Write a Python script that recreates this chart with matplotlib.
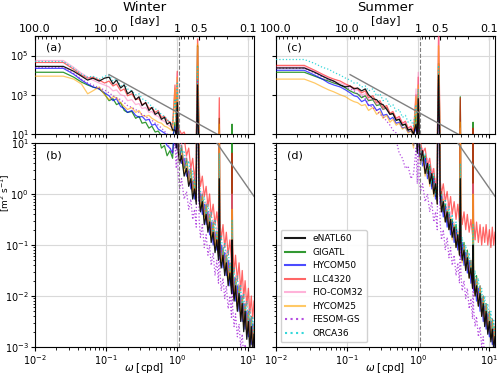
import numpy as np
import matplotlib
matplotlib.use("Agg")
import matplotlib.pyplot as plt

# frequency [cpd] shared by every spectrum
FREQ = [0.010, 0.025, 0.035, 0.045, 0.055, 0.065, 0.08, 0.095, 0.11, 0.125,
        0.14, 0.16, 0.18, 0.2, 0.23, 0.26, 0.29, 0.32, 0.36, 0.4,
        0.44, 0.49, 0.54, 0.6, 0.66, 0.72, 0.79, 0.86,
        0.93, 0.97, 1.0, 1.03, 1.08, 1.15, 1.25, 1.35, 1.45, 1.55,
        1.65, 1.75, 1.85, 1.93, 1.97, 2.03, 2.12, 2.25, 2.4, 2.55,
        2.7, 2.85, 3.0, 3.2, 3.4, 3.6, 3.8, 3.9, 3.98, 4.15,
        4.4, 4.65, 4.9, 5.2, 5.5, 5.8, 5.9, 6.0, 6.3, 6.6,
        7.0, 7.4, 7.8, 8.2, 8.6, 9.0, 9.5, 10.0, 10.5, 11.0,
        11.5, 12.0]

# log10 of spectral density, winter
win_enatl60 = [4.45, 4.45, 4.2, 3.95, 3.75, 3.85, 3.7, 3.85, 3.9, 3.55,
               3.75, 3.35, 3.5, 3.05, 3.2, 2.75, 2.9, 2.45, 2.6, 2.2,
               2.35, 2.0, 2.1, 1.75, 1.85, 1.5, 1.6, 1.2,
               1.2, 0.9, 2.6, 0.85, 0.6, 0.75, 0.35, 0.5, 0.15, 0.3,
               -0.1, 0.1, -0.2, 3.5, 1.5, -0.1, -0.35, -0.15, -0.6, -0.4,
               -0.75, -0.55, -0.95, -0.75, -1.15, -0.9, -1.3, 0.3, -1.2, -1.45,
               -1.2, -1.6, -1.35, -1.8, -1.55, -1.95, -0.9, -1.7, -2.1, -1.8,
               -2.3, -1.95, -2.5, -2.15, -2.7, -2.3, -2.85, -2.5, -3.05, -2.6,
               -3.1, -2.75]
win_gigatl = [4.15, 4.15, 3.9, 3.65, 3.5, 3.4, 3.3, 3.05, 2.7, 2.8,
              2.5, 2.6, 2.2, 2.1, 2.15, 1.8, 1.9, 1.55, 1.6, 1.3,
              1.4, 1.1, 1.15, 0.9, 0.95, 0.75, 0.85, 0.7,
              1.6, 1.0, 3.0, 1.1, 0.7, 0.95, 0.5, 0.7, 0.3, 0.5,
              0.05, 0.3, -0.05, 5.5, 3.0, 0.2, -0.25, 0.0, -0.45, -0.2,
              -0.65, -0.4, -0.85, -0.55, -1.0, -0.75, -1.15, 1.8, -0.9, -1.3,
              -1.05, -1.45, -1.2, -1.65, -1.35, -1.8, 1.5, -1.4, -2.0, -1.65,
              -2.2, -1.8, -2.35, -2.0, -2.5, -2.15, -2.65, -2.3, -2.8, -2.4,
              -2.9, -2.55]
win_hycom50 = [4.35, 4.35, 4.05, 3.75, 3.55, 3.4, 3.3, 3.1, 2.95, 2.7,
               2.8, 2.4, 2.3, 2.1, 2.2, 1.95, 1.85, 1.9, 1.7, 1.75,
               1.45, 1.5, 1.25, 1.15, 1.05, 0.95, 0.9, 0.8,
               1.4, 0.9, 2.5, 0.9, 0.85, 0.6, 0.7, 0.35, 0.45, 0.1,
               0.25, -0.1, 0.1, 4.0, 2.0, -0.15, 0.0, -0.4, -0.2, -0.6,
               -0.35, -0.8, -0.55, -1.0, -0.75, -1.1, -0.9, 0.4, -1.25, -1.0,
               -1.45, -1.15, -1.6, -1.3, -1.8, -1.5, -0.8, -1.95, -1.65, -2.1,
               -1.8, -2.3, -2.0, -2.5, -2.15, -2.65, -2.3, -2.8, -2.45, -2.95,
               -2.55, -3.0]
win_llc4320 = [4.65, 4.65, 4.3, 4.0, 3.85, 3.9, 3.75, 3.6, 3.7, 3.45,
               3.55, 3.2, 3.3, 2.95, 3.05, 2.75, 2.8, 2.5, 2.6, 2.3,
               2.35, 2.1, 2.2, 1.85, 1.9, 1.7, 1.6, 1.45,
               3.5, 1.5, 4.2, 1.4, 1.2, 1.0, 1.1, 0.75, 0.9, 0.5,
               0.7, 0.3, 0.6, 5.85, 4.0, 0.5, 0.15, 0.35, -0.05, 0.15,
               -0.25, 0.0, -0.45, -0.2, -0.6, -0.35, -0.7, 2.85, -0.5, -0.9,
               -0.6, -1.05, -0.75, -1.2, -0.9, -1.35, 0.8, -1.0, -1.55, -1.2,
               -1.7, -1.35, -1.9, -1.5, -2.05, -1.7, -2.2, -1.85, -2.35, -2.0,
               -2.45, -2.1]
win_fiocom32 = [4.75, 4.75, 4.4, 4.1, 3.9, 3.75, 3.6, 3.5, 3.4, 3.2,
                3.25, 3.0, 2.95, 2.7, 2.75, 2.5, 2.55, 2.3, 2.35, 2.1,
                2.15, 1.95, 1.9, 1.7, 1.65, 1.5, 1.4, 1.3,
                3.2, 1.2, 4.1, 1.2, 0.8, 1.0, 0.55, 0.75, 0.3, 0.55,
                0.05, 0.35, -0.05, 5.4, 3.5, 0.25, -0.2, 0.05, -0.4, -0.15,
                -0.6, -0.3, -0.8, -0.5, -1.0, -0.65, -1.15, 1.2, -0.85, -1.3,
                -1.0, -1.45, -1.1, -1.6, -1.3, -1.8, 0.0, -1.45, -2.0, -1.6,
                -2.2, -1.75, -2.4, -1.95, -2.55, -2.1, -2.7, -2.25, -2.85, -2.4,
                -2.95, -2.5]
win_hycom25 = [3.95, 3.95, 3.8, 3.55, 3.05, 3.2, 3.4, 3.0, 2.75, 2.9,
               2.85, 2.6, 2.4, 2.25, 2.35, 2.1, 2.2, 1.95, 1.9, 1.95,
               1.8, 1.7, 1.6, 1.55, 1.4, 1.35, 1.25, 1.15,
               3.3, 1.0, 3.9, 1.0, 0.6, 0.8, 0.4, 0.6, 0.2, 0.45,
               0.0, 0.25, -0.15, 5.6, 3.8, 0.1, -0.3, -0.05, -0.5, -0.25,
               -0.7, -0.4, -0.9, -0.6, -1.05, -0.75, -1.2, 1.5, -0.95, -1.4,
               -1.1, -1.5, -1.2, -1.7, -1.4, -1.85, -0.3, -1.55, -2.05, -1.7,
               -2.25, -1.85, -2.45, -2.05, -2.6, -2.2, -2.75, -2.35, -2.9, -2.5,
               -3.0, -2.6]
win_fesomgs = [4.4, 4.4, 4.1, 3.8, 3.6, 3.5, 3.35, 3.25, 3.1, 2.95,
               2.85, 2.75, 2.6, 2.45, 2.35, 2.25, 2.1, 2.0, 1.9, 1.75,
               1.7, 1.55, 1.45, 1.3, 1.15, 1.0, 0.9, 0.8,
               1.0, 0.5, 2.3, 0.4, 0.1, 0.3, -0.1, 0.05, -0.3, -0.1,
               -0.5, -0.3, -0.65, 3.8, 1.5, -0.5, -0.85, -0.6, -1.05, -0.8,
               -1.2, -1.0, -1.4, -1.15, -1.6, -1.3, -1.75, -0.3, -1.5, -1.9,
               -1.65, -2.05, -1.8, -2.25, -2.0, -2.45, -1.5, -2.2, -2.6, -2.35,
               -2.8, -2.55, -3.0, -2.75, -3.2, -2.95, -3.3, -3.1, -3.4, -3.2,
               -3.5, -3.3]
win_orca36 = [4.7, 4.7, 4.35, 4.05, 3.9, 3.95, 3.8, 3.95, 4.0, 3.7,
              3.8, 3.45, 3.55, 3.3, 3.2, 3.0, 3.05, 2.8, 2.7, 2.55,
              2.4, 2.3, 2.15, 2.0, 1.9, 1.75, 1.6, 1.5,
              2.8, 1.3, 3.6, 1.2, 1.0, 0.8, 0.85, 0.5, 0.65, 0.3,
              0.45, 0.1, 0.3, 4.5, 2.5, 0.2, 0.05, -0.2, -0.05, -0.4,
              -0.2, -0.55, -0.35, -0.75, -0.5, -0.9, -0.65, 0.8, -1.0, -0.8,
              -1.2, -0.95, -1.35, -1.1, -1.5, -1.3, -0.5, -1.65, -1.45, -1.85,
              -1.6, -2.05, -1.8, -2.25, -1.95, -2.4, -2.1, -2.55, -2.25, -2.7,
              -2.4, -2.8]

# log10 of spectral density, summer
sum_enatl60 = [4.37, 4.37, 4.15, 3.95, 3.8, 3.7, 3.5, 3.4, 3.45, 3.3,
               3.35, 3.2, 3.3, 3.0, 2.8, 2.75, 2.55, 2.5, 2.25, 2.0,
               2.05, 1.7, 1.75, 1.45, 1.5, 1.2, 1.25, 1.0,
               1.5, 0.8, 2.8, 1.0, 0.65, 0.85, 0.4, 0.6, 0.2, 0.4,
               0.0, 0.2, -0.2, 4.0, 2.0, 0.05, -0.35, -0.15, -0.55, -0.35,
               -0.7, -0.5, -0.85, -0.65, -1.05, -0.8, -1.2, 0.3, -0.95, -1.3,
               -1.1, -1.5, -1.25, -1.65, -1.45, -1.85, -1.0, -1.6, -2.0, -1.8,
               -2.2, -1.95, -2.4, -2.15, -2.6, -2.3, -2.75, -2.5, -2.9, -2.65,
               -3.05, -2.8]
sum_gigatl = [4.15, 4.15, 3.95, 3.8, 3.7, 3.6, 3.5, 3.35, 3.2, 3.1,
              3.05, 2.85, 2.95, 2.7, 2.75, 2.45, 2.5, 2.25, 2.35, 2.0,
              2.05, 1.7, 1.75, 1.45, 1.5, 1.2, 1.25, 1.0,
              2.0, 1.0, 3.0, 0.95, 0.9, 0.65, 0.75, 0.4, 0.55, 0.15,
              0.35, -0.05, 0.15, 4.6, 3.5, -0.05, 0.05, -0.35, -0.2, -0.55,
              -0.35, -0.7, -0.5, -0.85, -0.6, -1.0, -0.75, 2.9, -0.8, -1.2,
              -0.95, -1.4, -1.1, -1.55, -1.3, -1.75, 1.6, -1.5, -1.95, -1.6,
              -2.15, -1.8, -2.3, -2.0, -2.5, -2.15, -2.65, -2.3, -2.8, -2.45,
              -2.9, -2.6]
sum_hycom50 = [4.25, 4.25, 4.0, 3.8, 3.6, 3.5, 3.4, 3.25, 3.1, 2.95,
               2.9, 2.65, 2.75, 2.45, 2.5, 2.2, 2.3, 1.95, 2.0, 1.75,
               1.85, 1.55, 1.6, 1.3, 1.35, 1.1, 1.15, 0.95,
               1.3, 0.85, 2.5, 0.75, 0.85, 0.55, 0.7, 0.3, 0.45, 0.1,
               0.3, -0.1, 0.1, 3.8, 1.8, -0.2, -0.05, -0.45, -0.25, -0.65,
               -0.4, -0.8, -0.55, -0.95, -0.7, -1.1, -0.85, 0.0, -1.25, -0.95,
               -1.4, -1.15, -1.55, -1.3, -1.75, -1.5, -1.0, -1.9, -1.7, -2.1,
               -1.85, -2.3, -2.05, -2.5, -2.2, -2.65, -2.35, -2.8, -2.5, -2.95,
               -2.65, -3.0]
sum_llc4320 = [4.5, 4.5, 4.25, 4.05, 3.9, 3.8, 3.7, 3.55, 3.45, 3.35,
               3.3, 3.1, 3.2, 2.85, 2.95, 2.6, 2.7, 2.35, 2.45, 2.05,
               2.15, 1.8, 1.9, 1.55, 1.65, 1.3, 1.4, 1.1,
               3.0, 1.2, 3.9, 1.1, 1.0, 0.8, 0.9, 0.55, 0.7, 0.35,
               0.5, 0.15, 0.35, 6.0, 4.5, 0.3, 0.0, 0.2, -0.15, 0.05,
               -0.3, -0.05, -0.4, -0.15, -0.5, -0.2, -0.55, 2.85, -0.3, -0.6,
               -0.35, -0.7, -0.4, -0.75, -0.5, -0.8, 1.3, -0.5, -0.9, -0.55,
               -0.95, -0.6, -1.0, -0.65, -0.95, -0.6, -1.0, -0.7, -1.05, -0.65,
               -1.0, -0.75]
sum_fiocom32 = [4.42, 4.42, 4.2, 4.0, 3.85, 3.7, 3.6, 3.5, 3.4, 3.25,
                3.25, 3.0, 3.05, 2.75, 2.8, 2.5, 2.6, 2.25, 2.35, 2.0,
                2.05, 1.75, 1.85, 1.5, 1.6, 1.25, 1.35, 1.05,
                3.3, 1.1, 4.15, 1.1, 0.7, 0.9, 0.45, 0.7, 0.25, 0.5,
                0.0, 0.3, -0.1, 6.0, 4.0, 0.2, -0.25, 0.0, -0.45, -0.2,
                -0.6, -0.35, -0.8, -0.55, -0.95, -0.7, -1.1, 1.3, -0.85, -1.25,
                -1.0, -1.4, -1.15, -1.55, -1.3, -1.75, 0.2, -1.5, -1.95, -1.65,
                -2.15, -1.8, -2.35, -2.0, -2.5, -2.15, -2.65, -2.3, -2.8, -2.45,
                -2.9, -2.55]
sum_hycom25 = [3.8, 3.8, 3.6, 3.4, 3.25, 3.15, 3.0, 2.9, 2.75, 2.65,
               2.6, 2.45, 2.5, 2.2, 2.35, 2.0, 2.15, 1.8, 1.95, 1.6,
               1.75, 1.45, 1.55, 1.25, 1.35, 1.05, 1.15, 0.9,
               2.9, 0.9, 3.5, 0.9, 0.6, 0.8, 0.35, 0.55, 0.15, 0.4,
               -0.05, 0.2, -0.2, 5.5, 3.8, 0.0, -0.35, -0.1, -0.55, -0.3,
               -0.7, -0.45, -0.9, -0.6, -1.05, -0.75, -1.2, 1.6, -0.95, -1.35,
               -1.05, -1.5, -1.2, -1.65, -1.4, -1.85, 0.0, -1.55, -2.0, -1.7,
               -2.2, -1.85, -2.4, -2.05, -2.55, -2.2, -2.7, -2.35, -2.85, -2.5,
               -2.95, -2.6]
sum_fesomgs = [4.35, 4.35, 4.1, 3.9, 3.75, 3.65, 3.5, 3.4, 3.3, 3.2,
               3.05, 2.95, 2.8, 2.5, 2.35, 2.2, 2.0, 1.9, 1.65, 1.45,
               1.2, 1.05, 0.8, 0.7, 0.5, 0.55, 0.3, 0.4,
               0.9, 0.2, 2.0, 0.3, 0.05, 0.2, -0.15, 0.0, -0.35, -0.15,
               -0.55, -0.35, -0.7, 3.5, 1.3, -0.55, -0.9, -0.7, -1.1, -0.85,
               -1.25, -1.05, -1.4, -1.2, -1.6, -1.35, -1.75, -0.5, -1.55, -1.9,
               -1.7, -2.05, -1.85, -2.25, -2.05, -2.45, -1.6, -2.25, -2.6, -2.4,
               -2.8, -2.6, -3.0, -2.8, -3.2, -3.0, -3.3, -3.15, -3.4, -3.25,
               -3.5, -3.3]
sum_orca36 = [4.8, 4.8, 4.6, 4.4, 4.3, 4.15, 4.0, 3.85, 3.75, 3.6,
              3.6, 3.4, 3.45, 3.2, 3.3, 2.95, 3.05, 2.7, 2.8, 2.4,
              2.5, 2.15, 2.25, 1.85, 1.95, 1.6, 1.7, 1.4,
              2.5, 1.2, 3.3, 1.05, 0.95, 0.7, 0.8, 0.45, 0.6, 0.2,
              0.4, 0.0, 0.2, 4.5, 2.5, 0.1, -0.05, -0.3, -0.1, -0.45,
              -0.25, -0.6, -0.4, -0.75, -0.55, -0.9, -0.7, 0.6, -1.05, -0.85,
              -1.25, -1.0, -1.4, -1.15, -1.55, -1.35, -0.6, -1.7, -1.5, -1.9,
              -1.65, -2.1, -1.85, -2.3, -2.0, -2.45, -2.15, -2.6, -2.3, -2.75,
              -2.45, -2.85]

MODELS = ["eNATL60", "GIGATL", "HYCOM50", "LLC4320", "FIO-COM32", "HYCOM25", "FESOM-GS", "ORCA36"]
WINTER = [win_enatl60, win_gigatl, win_hycom50, win_llc4320, win_fiocom32, win_hycom25, win_fesomgs, win_orca36]
SUMMER = [sum_enatl60, sum_gigatl, sum_hycom50, sum_llc4320, sum_fiocom32, sum_hycom25, sum_fesomgs, sum_orca36]

# omega^-2 reference line end points
REF_X = [0.11, 12.0]
REF_Y = [1.07e4, 0.9]
INERTIAL = 1.07

STYLE = {
    "eNATL60": dict(color="black", ls="-", alpha=0.9, zorder=5),
    "GIGATL": dict(color="green", ls="-", alpha=0.8, zorder=3),
    "HYCOM50": dict(color="blue", ls="-", alpha=0.7, zorder=3),
    "LLC4320": dict(color="red", ls="-", alpha=0.6, zorder=3),
    "FIO-COM32": dict(color="hotpink", ls="-", alpha=0.5, zorder=3),
    "HYCOM25": dict(color="orange", ls="-", alpha=0.6, zorder=3),
    "FESOM-GS": dict(color="darkviolet", ls=":", alpha=0.7, zorder=3),
    "ORCA36": dict(color="darkturquoise", ls=":", alpha=0.8, zorder=4),
}


def inv(x):
    x = np.asarray(x, dtype=float)
    with np.errstate(divide="ignore"):
        return 1.0 / x


fig = plt.figure(figsize=(5, 3.75), dpi=100)
w = 0.438
lefts = [0.07, 0.552]
top_y, top_h = 0.6427, 0.2613
bot_y, bot_h = 0.0747, 0.544

freq = np.array(FREQ)
for col, (season, data) in enumerate([("Winter", WINTER), ("Summer", SUMMER)]):
    ax_t = fig.add_axes([lefts[col], top_y, w, top_h])
    ax_b = fig.add_axes([lefts[col], bot_y, w, bot_h])
    for name, vals in zip(MODELS, data):
        st = STYLE[name]
        for ax in (ax_t, ax_b):
            ax.plot(freq, 10 ** np.array(vals), lw=0.9, label=name, **st)
    for ax in (ax_t, ax_b):
        ax.plot(REF_X, REF_Y, color="grey", lw=1.0, zorder=6)
        ax.axvline(INERTIAL, color="grey", ls="--", lw=0.8, zorder=6)
        ax.set_xscale("log")
        ax.set_yscale("log")
        ax.set_xlim(1e-2, 12)
        ax.grid(True, which="major", color="0.85", lw=0.8)
        ax.tick_params(labelsize=7, pad=1.5, length=3)
        ax.tick_params(which="minor", length=1.8)
    ax_t.set_ylim(1e1, 1e6)
    ax_t.set_yticks([1e1, 1e3, 1e5])
    ax_t.yaxis.set_minor_locator(matplotlib.ticker.NullLocator())
    ax_b.set_ylim(1e-3, 1e1)
    ax_b.set_yticks([1e-3, 1e-2, 1e-1, 1e0, 1e1])
    ax_t.tick_params(labelbottom=False)
    if col == 1:
        ax_t.tick_params(labelleft=False)
        ax_b.tick_params(labelleft=False)
    ax_b.set_xlabel(r"$\omega$ [cpd]", fontsize=7.5, labelpad=-4.5)

    sec = ax_t.secondary_xaxis("top", functions=(inv, inv))
    sec.set_xticks([100, 10, 1, 0.5, 0.1])
    sec.set_xticklabels(["100.0", "10.0", "1", "0.5", "0.1"])
    sec.tick_params(labelsize=8, pad=1.5, direction="in", length=3)
    sec.tick_params(which="minor", direction="in", length=1.8)
    sec.set_xlabel("[day]", fontsize=8, labelpad=0)
    fig.text(lefts[col] + w / 2, 0.979, season, fontsize=9.5, ha="center", va="center")

    tag_t, tag_b = ("(a)", "(b)") if col == 0 else ("(c)", "(d)")
    ax_t.text(0.05, 0.88, tag_t, transform=ax_t.transAxes, fontsize=8, va="center")
    ax_b.text(0.05, 0.94, tag_b, transform=ax_b.transAxes, fontsize=8, va="center")

    if col == 1:
        leg = ax_b.legend(loc="lower left", fontsize=6.5, labelspacing=0.5,
                          handlelength=2.2, borderpad=0.5, framealpha=0.9)
        for ln in leg.get_lines():
            ln.set_linewidth(1.5)

fig.text(0.011, 0.485, r"[m$^2$ s$^{-1}$]", rotation=90, fontsize=6.5, va="center", ha="center")

fig.savefig("out.png", dpi=100)
